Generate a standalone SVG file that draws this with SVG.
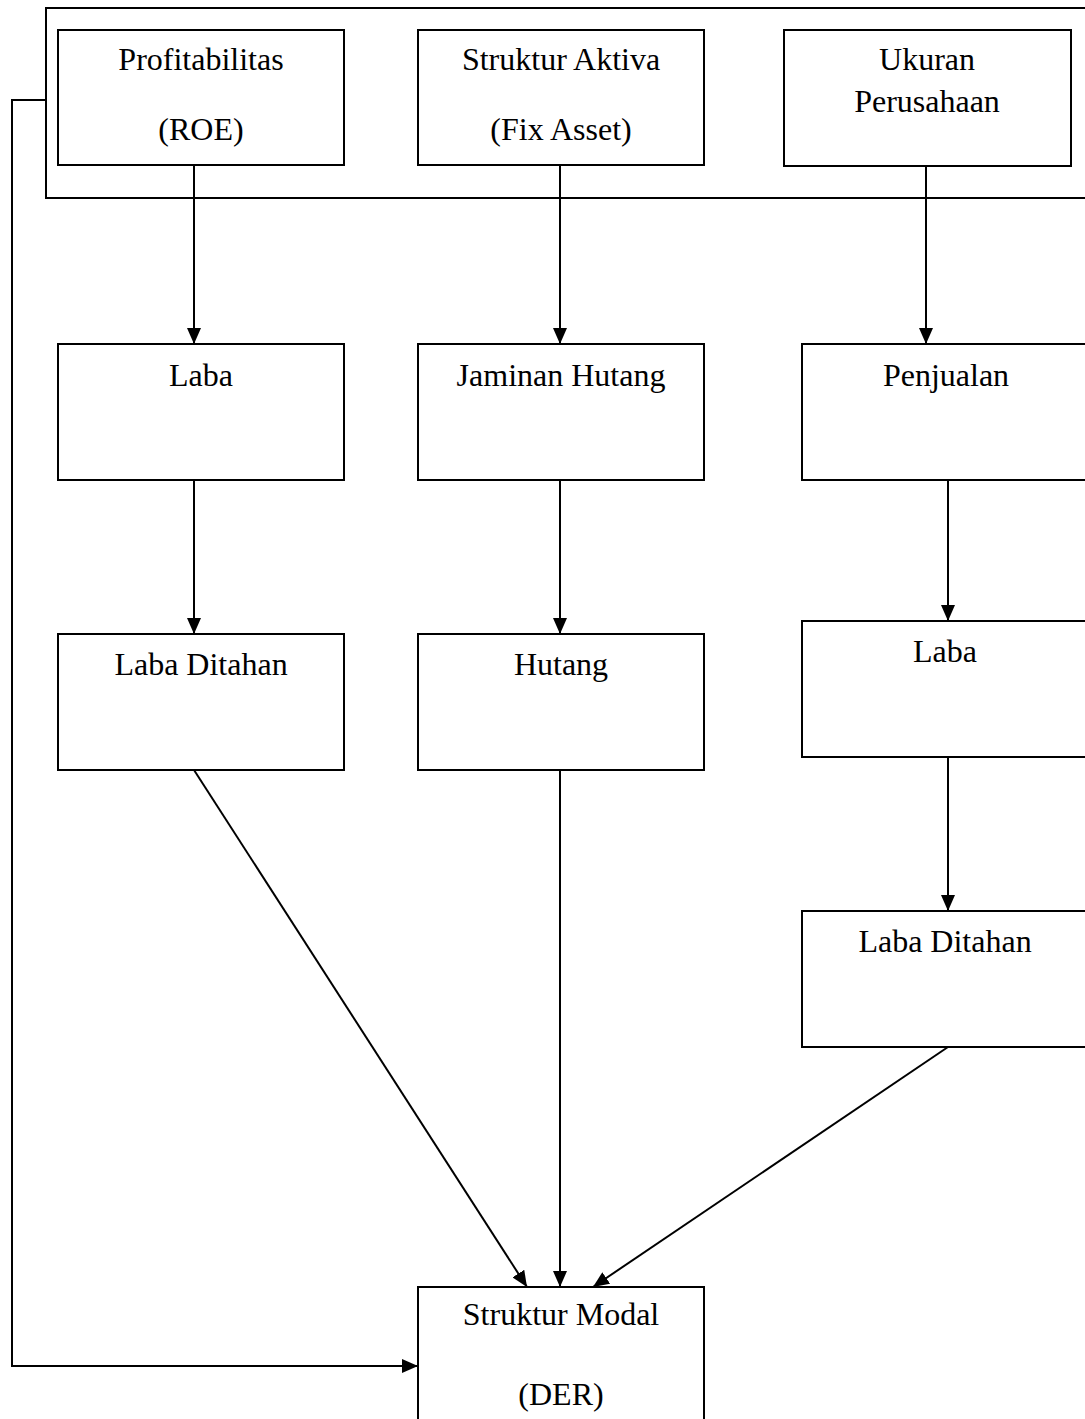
<svg xmlns="http://www.w3.org/2000/svg" width="1085" height="1419" viewBox="0 0 1085 1419">
<style>
.box{fill:#fff;stroke:#000;stroke-width:2}
.frame{fill:none;stroke:#000;stroke-width:2}
.ln{fill:none;stroke:#000;stroke-width:2}
text{font-family:"Liberation Serif","Times New Roman",serif;font-size:32px;fill:#000;text-anchor:middle}
</style>
<defs>
<marker id="ah" viewBox="0 0 16 14" refX="16" refY="7" markerWidth="16" markerHeight="14" markerUnits="userSpaceOnUse" orient="auto">
<path d="M0,0 L16,7 L0,14 z" fill="#000"/>
</marker>
</defs>
<rect x="0" y="0" width="1085" height="1419" fill="#fff" stroke="none"/>
<g id="frame"><path class="frame" d="M1090,8 H46 V198 H1090"/></g>
<g id="connectors">
<line class="ln" x1="194" y1="166" x2="194" y2="344" marker-end="url(#ah)"/>
<line class="ln" x1="560" y1="166" x2="560" y2="344" marker-end="url(#ah)"/>
<line class="ln" x1="926" y1="166" x2="926" y2="344" marker-end="url(#ah)"/>
<line class="ln" x1="194" y1="480" x2="194" y2="634" marker-end="url(#ah)"/>
<line class="ln" x1="560" y1="480" x2="560" y2="634" marker-end="url(#ah)"/>
<line class="ln" x1="948" y1="480" x2="948" y2="621" marker-end="url(#ah)"/>
<line class="ln" x1="948" y1="757" x2="948" y2="911" marker-end="url(#ah)"/>
<line class="ln" x1="194" y1="770" x2="527" y2="1287" marker-end="url(#ah)"/>
<line class="ln" x1="560" y1="770" x2="560" y2="1287" marker-end="url(#ah)"/>
<line class="ln" x1="948" y1="1047" x2="593" y2="1287" marker-end="url(#ah)"/>
<path class="ln" d="M46,100 H12 V1366 H418" marker-end="url(#ah)"/>
</g>
<g id="n-profit"><rect class="box" x="58" y="30" width="286" height="135"/><text x="201" y="70">Profitabilitas</text><text x="201" y="140">(ROE)</text></g>
<g id="n-aktiva"><rect class="box" x="418" y="30" width="286" height="135"/><text x="561" y="70">Struktur Aktiva</text><text x="561" y="140">(Fix Asset)</text></g>
<g id="n-ukuran"><rect class="box" x="784" y="30" width="287" height="136"/><text x="927" y="70">Ukuran</text><text x="927" y="112">Perusahaan</text></g>
<g id="n-laba1"><rect class="box" x="58" y="344" width="286" height="136"/><text x="201" y="386">Laba</text></g>
<g id="n-jaminan"><rect class="box" x="418" y="344" width="286" height="136"/><text x="561" y="386">Jaminan Hutang</text></g>
<g id="n-penjualan"><rect class="box" x="802" y="344" width="300" height="136"/><text x="946" y="386">Penjualan</text></g>
<g id="n-ditahan1"><rect class="box" x="58" y="634" width="286" height="136"/><text x="201" y="675">Laba Ditahan</text></g>
<g id="n-hutang"><rect class="box" x="418" y="634" width="286" height="136"/><text x="561" y="675">Hutang</text></g>
<g id="n-laba2"><rect class="box" x="802" y="621" width="300" height="136"/><text x="945" y="662">Laba</text></g>
<g id="n-ditahan2"><rect class="box" x="802" y="911" width="300" height="136"/><text x="945" y="952">Laba Ditahan</text></g>
<g id="n-modal"><rect class="box" x="418" y="1287" width="286" height="150"/><text x="561" y="1325">Struktur Modal</text><text x="561" y="1405">(DER)</text></g>
</svg>
